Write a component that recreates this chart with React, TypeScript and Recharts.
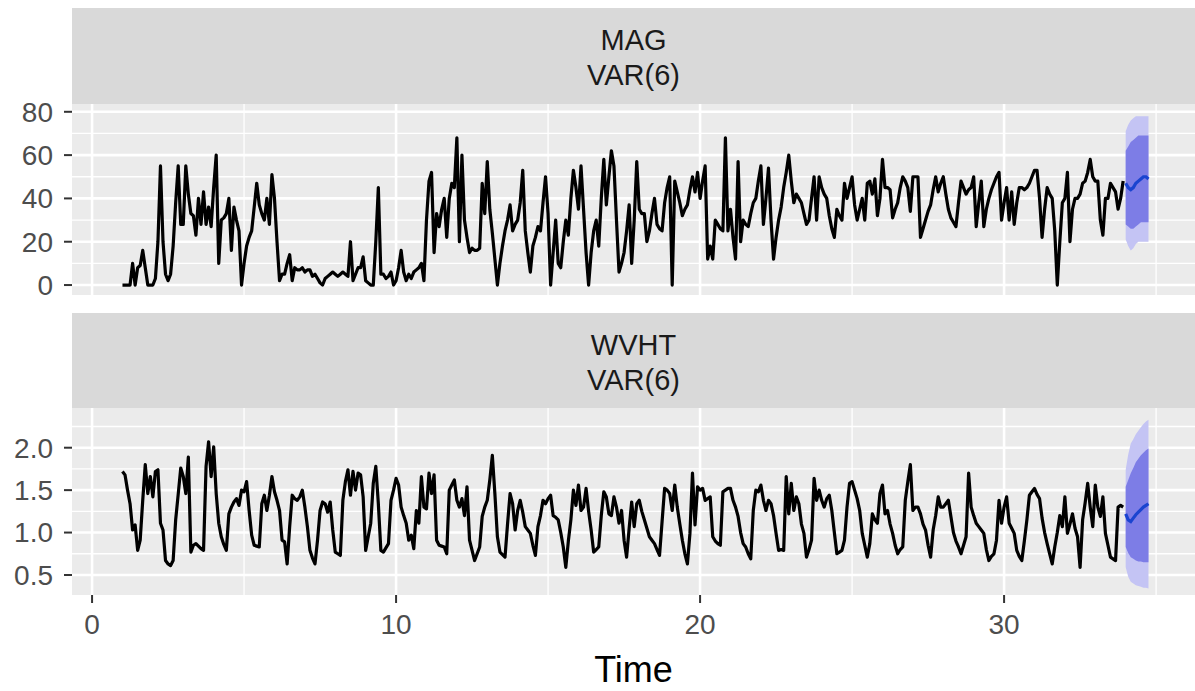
import React from "react";
import { ComposedChart, Line, Area, XAxis, YAxis, CartesianGrid } from "recharts";

// time series: starts at t = 1, 12 observations per time unit
const START = 1;
const FREQ = 12;

const MAG = [
  0, 0, 0, 0, 10, 0, 8, 9, 16, 8, 0, 0,
  0, 3, 20, 55, 20, 5, 2, 5, 18, 38, 55, 28,
  28, 55, 42, 33, 32, 23, 40, 28, 43, 28, 36, 27,
  45, 60, 10, 30, 31, 33, 40, 16, 36, 30, 25, 0,
  10, 18, 22, 25, 36, 47, 37, 33, 30, 40, 28, 51,
  40, 20, 2, 5, 5, 10, 14, 2, 8, 7, 7, 8,
  6, 7, 7, 4, 5, 3, 1, 0, 3, 4, 5, 6,
  5, 4, 5, 6, 5, 4, 20, 2, 5, 8, 8, 13,
  2, 1, 0, 0, 20, 45, 5, 5, 3, 4, 6, 0,
  2, 8, 16, 6, 2, 5, 3, 6, 7, 8, 10, 2,
  30, 48, 52, 15, 33, 27, 35, 40, 22, 40, 47, 45,
  68, 20, 60, 30, 22, 15, 17, 16, 16, 17, 47, 33,
  57, 35, 24, 12, 0, 10, 18, 25, 30, 37, 25, 28,
  30, 38, 53, 25, 15, 6, 18, 22, 27, 25, 38, 50,
  33, 0, 15, 30, 10, 8, 20, 30, 23, 40, 53, 45,
  35, 55, 35, 15, 0, 15, 25, 30, 18, 40, 58, 37,
  50, 62, 55, 30, 6, 10, 15, 25, 37, 10, 30, 57,
  35, 33, 33, 20, 25, 33, 40, 28, 26, 25, 38, 45,
  50, 0, 48, 43, 38, 32, 35, 37, 44, 50, 43, 52,
  40, 48, 55, 12, 18, 12, 30, 28, 26, 25, 68, 25,
  35, 22, 12, 57, 20, 30, 28, 27, 33, 38, 40, 48,
  55, 28, 40, 54, 30, 12, 22, 30, 36, 45, 52, 60,
  48, 38, 42, 40, 38, 33, 28, 30, 40, 50, 30, 50,
  45, 42, 40, 32, 26, 22, 35, 32, 30, 47, 40, 45,
  50, 37, 30, 35, 40, 30, 47, 48, 42, 49, 32, 40,
  58, 45, 45, 44, 31, 35, 38, 45, 50, 48, 45, 34,
  50, 50, 50, 22, 26, 30, 34, 37, 44, 50, 43, 47,
  50, 42, 35, 31, 29, 27, 38, 48, 45, 42, 44, 45,
  50, 27, 38, 48, 27, 35, 40, 44, 47, 50, 52, 30,
  38, 45, 30, 43, 28, 38, 45, 45, 44, 45, 47, 50,
  53, 53, 40, 22, 35, 45, 42, 40, 25, 0, 20, 38,
  40, 52, 20, 35, 40, 40, 42, 47, 48, 52, 58, 50,
  48, 48, 30, 23, 40, 40, 47, 45, 43, 35, 40, 48,
];

const WVHT = [
  1.72, 1.68, 1.5, 1.34, 1.03, 1.09, 0.79, 0.91, 1.38, 1.8, 1.46, 1.66,
  1.42, 1.72, 1.74, 1.11, 1.03, 0.67, 0.63, 0.61, 0.67, 1.15, 1.45, 1.76,
  1.66, 1.46, 1.89, 0.77, 0.85, 0.87, 0.84, 0.81, 0.79, 1.78, 2.07, 1.66,
  2.01, 1.46, 1.11, 0.95, 0.86, 0.79, 1.22, 1.3, 1.36, 1.4, 1.32, 1.5,
  1.48, 1.6, 1.26, 0.97, 0.85, 0.84, 0.83, 1.34, 1.44, 1.26, 1.44, 1.66,
  1.48, 1.38, 1.26, 0.91, 0.89, 0.63, 1.07, 1.44, 1.4, 1.38, 1.42, 1.5,
  1.3, 1.07, 0.79, 0.7, 0.63, 0.91, 1.26, 1.36, 1.34, 1.24, 1.36, 1.03,
  0.77, 0.75, 0.73, 1.38, 1.6, 1.74, 1.44, 1.72, 1.5, 1.7, 1.68, 1.42,
  0.79, 0.95, 1.11, 1.58, 1.78, 1.34, 0.79, 0.77, 0.82, 0.87, 1.38, 1.5,
  1.64, 1.56, 1.3, 1.2, 1.11, 0.91, 0.97, 0.81, 1.26, 1.11, 1.66, 1.3,
  1.28, 1.7, 1.46, 1.68, 0.91, 0.85, 0.84, 0.83, 0.75, 1.5, 1.56, 1.62,
  1.38, 1.3, 1.4, 1.2, 1.54, 0.91, 0.79, 0.67, 0.75, 0.83, 1.19, 1.3,
  1.38, 1.62, 1.91, 1.46, 0.95, 0.77, 0.74, 0.71, 1.1, 1.46, 1.34, 1.03,
  1.26, 1.38, 1.24, 1.07, 1.03, 0.99, 0.85, 0.73, 1.07, 1.2, 1.38, 1.34,
  1.4, 1.44, 1.2, 1.18, 1.15, 1.0, 0.83, 0.59, 0.9, 1.15, 1.5, 1.32,
  1.56, 1.26, 1.3, 1.52, 1.25, 1.03, 0.77, 0.8, 0.83, 1.2, 1.48, 1.42,
  1.22, 1.2, 1.42, 1.3, 1.11, 1.26, 0.91, 0.71, 1.05, 1.36, 1.07, 1.34,
  1.38, 1.25, 1.15, 1.05, 0.95, 0.91, 0.87, 0.8, 0.73, 1.13, 1.52, 1.5,
  1.46, 1.26, 1.56, 1.3, 1.1, 0.91, 0.75, 0.63, 0.99, 1.7, 1.09, 1.54,
  1.5, 1.52, 1.38, 1.4, 1.42, 0.95, 0.9, 0.87, 0.85, 1.48, 1.5, 1.52,
  1.52, 1.38, 1.3, 1.19, 1.0, 0.87, 0.83, 0.75, 0.69, 1.26, 1.5, 1.48,
  1.56, 1.38, 1.26, 1.38, 1.34, 1.2, 0.99, 0.79, 0.8, 0.79, 1.66, 1.22,
  1.58, 1.26, 1.42, 1.34, 1.1, 0.99, 0.71, 0.8, 0.91, 1.64, 1.38, 1.5,
  1.38, 1.3, 1.4, 1.44, 1.26, 1.0, 0.75, 0.77, 0.79, 0.91, 1.3, 1.58,
  1.6, 1.5, 1.4, 1.26, 0.99, 0.85, 0.71, 0.87, 1.22, 1.15, 1.11, 1.46,
  1.56, 1.22, 1.26, 1.1, 0.99, 0.85, 0.75, 0.8, 0.83, 1.38, 1.6, 1.8,
  1.26, 1.3, 1.3, 1.22, 1.1, 1.03, 0.85, 0.71, 1.03, 1.2, 1.42, 1.3,
  1.3, 1.34, 1.38, 1.19, 1.0, 0.9, 0.83, 0.75, 0.85, 0.95, 1.7, 1.3,
  1.2, 1.11, 1.07, 1.03, 0.99, 0.8, 0.67, 0.72, 0.75, 0.91, 1.38, 1.11,
  1.3, 1.42, 1.11, 1.05, 0.99, 0.79, 0.72, 0.67, 0.9, 1.15, 1.44, 1.48,
  1.52, 1.45, 1.4, 1.17, 1.0, 0.87, 0.75, 0.63, 0.83, 1.0, 1.2, 1.07,
  1.42, 0.99, 1.1, 1.22, 1.05, 0.95, 0.59, 1.15, 1.35, 1.58, 1.3, 1.07,
  1.56, 1.3, 1.19, 1.42, 0.99, 0.85, 0.71, 0.69, 0.67, 1.3, 1.32, 1.3,
];

// VAR(6) forecasts (mean, 80% and 95% intervals)
const MAG_FC = [47, 45, 44, 45, 47, 48, 49, 50, 50, 49];
const MAG_LO80 = [28, 27, 26, 26, 27, 28, 29, 29, 29, 29];
const MAG_HI80 = [62, 64, 66, 67, 68, 69, 69, 69, 69, 69];
const MAG_LO95 = [21, 18, 16, 17, 19, 20, 20, 20, 20, 20];
const MAG_HI95 = [71, 74, 76, 77, 78, 78, 78, 78, 78, 78];

const WVHT_FC = [1.22, 1.15, 1.13, 1.17, 1.21, 1.24, 1.27, 1.3, 1.32, 1.34];
const WVHT_LO80 = [0.83, 0.76, 0.71, 0.69, 0.67, 0.66, 0.66, 0.65, 0.65, 0.65];
const WVHT_HI80 = [1.54, 1.62, 1.7, 1.76, 1.83, 1.87, 1.91, 1.94, 1.97, 1.99];
const WVHT_LO95 = [0.59, 0.48, 0.42, 0.4, 0.38, 0.37, 0.36, 0.35, 0.35, 0.34];
const WVHT_HI95 = [1.74, 1.92, 2.05, 2.1, 2.16, 2.2, 2.24, 2.28, 2.31, 2.33];

const X_MAJOR = [0, 10, 20, 30];
const X_MINOR = [5, 15, 25, 35];
const MAG_TICKS = [0, 20, 40, 60, 80];
const MAG_MINOR = [10, 30, 50, 70];
const WVHT_TICKS = [0.5, 1.0, 1.5, 2.0];
const WVHT_MINOR = [0.75, 1.25, 1.75, 2.25];

const X_DOMAIN: [number, number] = [-0.66, 36.28];
const FONT = "'Liberation Sans', Arial, sans-serif";

function buildRows(obs: number[], fc: number[], lo80: number[], hi80: number[], lo95: number[], hi95: number[]) {
  const rows: any[] = obs.map((v, i) => ({ t: START + i / FREQ, obs: v }));
  fc.forEach((m, k) => {
    rows.push({
      t: START + (obs.length + k) / FREQ,
      fc: m,
      band80: [lo80[k], hi80[k]],
      band95: [lo95[k], hi95[k]],
    });
  });
  return rows;
}

const magRows = buildRows(MAG, MAG_FC, MAG_LO80, MAG_HI80, MAG_LO95, MAG_HI95);
const wvhtRows = buildRows(WVHT, WVHT_FC, WVHT_LO80, WVHT_HI80, WVHT_LO95, WVHT_HI95);

const tickStyle = { fill: "#4D4D4D", fontSize: 28, fontFamily: FONT };

function Strip({ top, name }: { top: number; name: string }) {
  return (
    <div
      style={{
        position: "absolute", left: 72, top, width: 1123, height: 96,
        background: "#D9D9D9", color: "#1A1A1A", fontSize: 29, lineHeight: "35px",
        textAlign: "center", display: "flex", flexDirection: "column",
        justifyContent: "center", paddingTop: 4, boxSizing: "border-box",
      }}
    >
      <div>{name}</div>
      <div>VAR(6)</div>
    </div>
  );
}

function Panel({ rows, domain, ticks, minor, fmt, top, height, marginTop, bottom, showX }: any) {
  return (
    <div style={{ position: "absolute", left: 0, top }}>
      <ComposedChart
        width={1195}
        height={height}
        data={rows}
        margin={{ top: marginTop, right: 0, bottom, left: 0 }}
      >
        <CartesianGrid
          fill="#EBEBEB"
          stroke="#FFFFFF"
          strokeWidth={1.3}
          horizontalValues={minor}
          verticalValues={X_MINOR}
        />
        <CartesianGrid
          stroke="#FFFFFF"
          strokeWidth={2.6}
          horizontalValues={ticks}
          verticalValues={X_MAJOR}
        />
        <XAxis
          dataKey="t"
          type="number"
          domain={X_DOMAIN}
          allowDataOverflow
          ticks={X_MAJOR}
          interval={0}
          hide={!showX}
          height={showX ? 96 : 0}
          axisLine={false}
          tickSize={8}
          tickMargin={11}
          tickLine={{ stroke: "#333333", strokeWidth: 2 }}
          tick={tickStyle}
          label={showX ? { value: "Time", position: "insideBottom", offset: 9, fontSize: 36, fill: "#000000", fontFamily: FONT } : undefined}
        />
        <YAxis
          type="number"
          domain={domain}
          allowDataOverflow
          ticks={ticks}
          interval={0}
          width={72}
          axisLine={false}
          tickSize={8}
          tickMargin={11}
          tickLine={{ stroke: "#333333", strokeWidth: 2 }}
          tick={tickStyle}
          tickFormatter={fmt}
        />
        <Area
          dataKey="band95"
          type="linear"
          stroke="none"
          fill="#C4C4F4"
          fillOpacity={1}
          dot={false}
          activeDot={false}
          isAnimationActive={false}
        />
        <Area
          dataKey="band80"
          type="linear"
          stroke="none"
          fill="#7D7DE6"
          fillOpacity={1}
          dot={false}
          activeDot={false}
          isAnimationActive={false}
        />
        <Line dataKey="obs" type="linear" stroke="#000000" strokeWidth={3.2} strokeLinejoin="round" dot={false} activeDot={false} isAnimationActive={false} />
        <Line dataKey="fc" type="linear" stroke="#1A44D0" strokeWidth={3.2} dot={false} activeDot={false} isAnimationActive={false} />
      </ComposedChart>
    </div>
  );
}

export default function App() {
  return (
    <div style={{ position: "absolute", left: 0, top: 0, width: 1195, height: 691, background: "#FFFFFF", fontFamily: FONT, overflow: "hidden" }}>
      <Strip top={8} name="MAG" />
      <Panel
        rows={magRows}
        domain={[-4.6, 83.6]}
        ticks={MAG_TICKS}
        minor={MAG_MINOR}
        fmt={(v: number) => String(v)}
        top={0}
        height={300}
        marginTop={104}
        bottom={5}
        showX={false}
      />
      <Strip top={313} name="WVHT" />
      <Panel
        rows={wvhtRows}
        domain={[0.264, 2.468]}
        ticks={WVHT_TICKS}
        minor={WVHT_MINOR}
        fmt={(v: number) => v.toFixed(1)}
        top={300}
        height={391}
        marginTop={108}
        bottom={0}
        showX={true}
      />
    </div>
  );
}
